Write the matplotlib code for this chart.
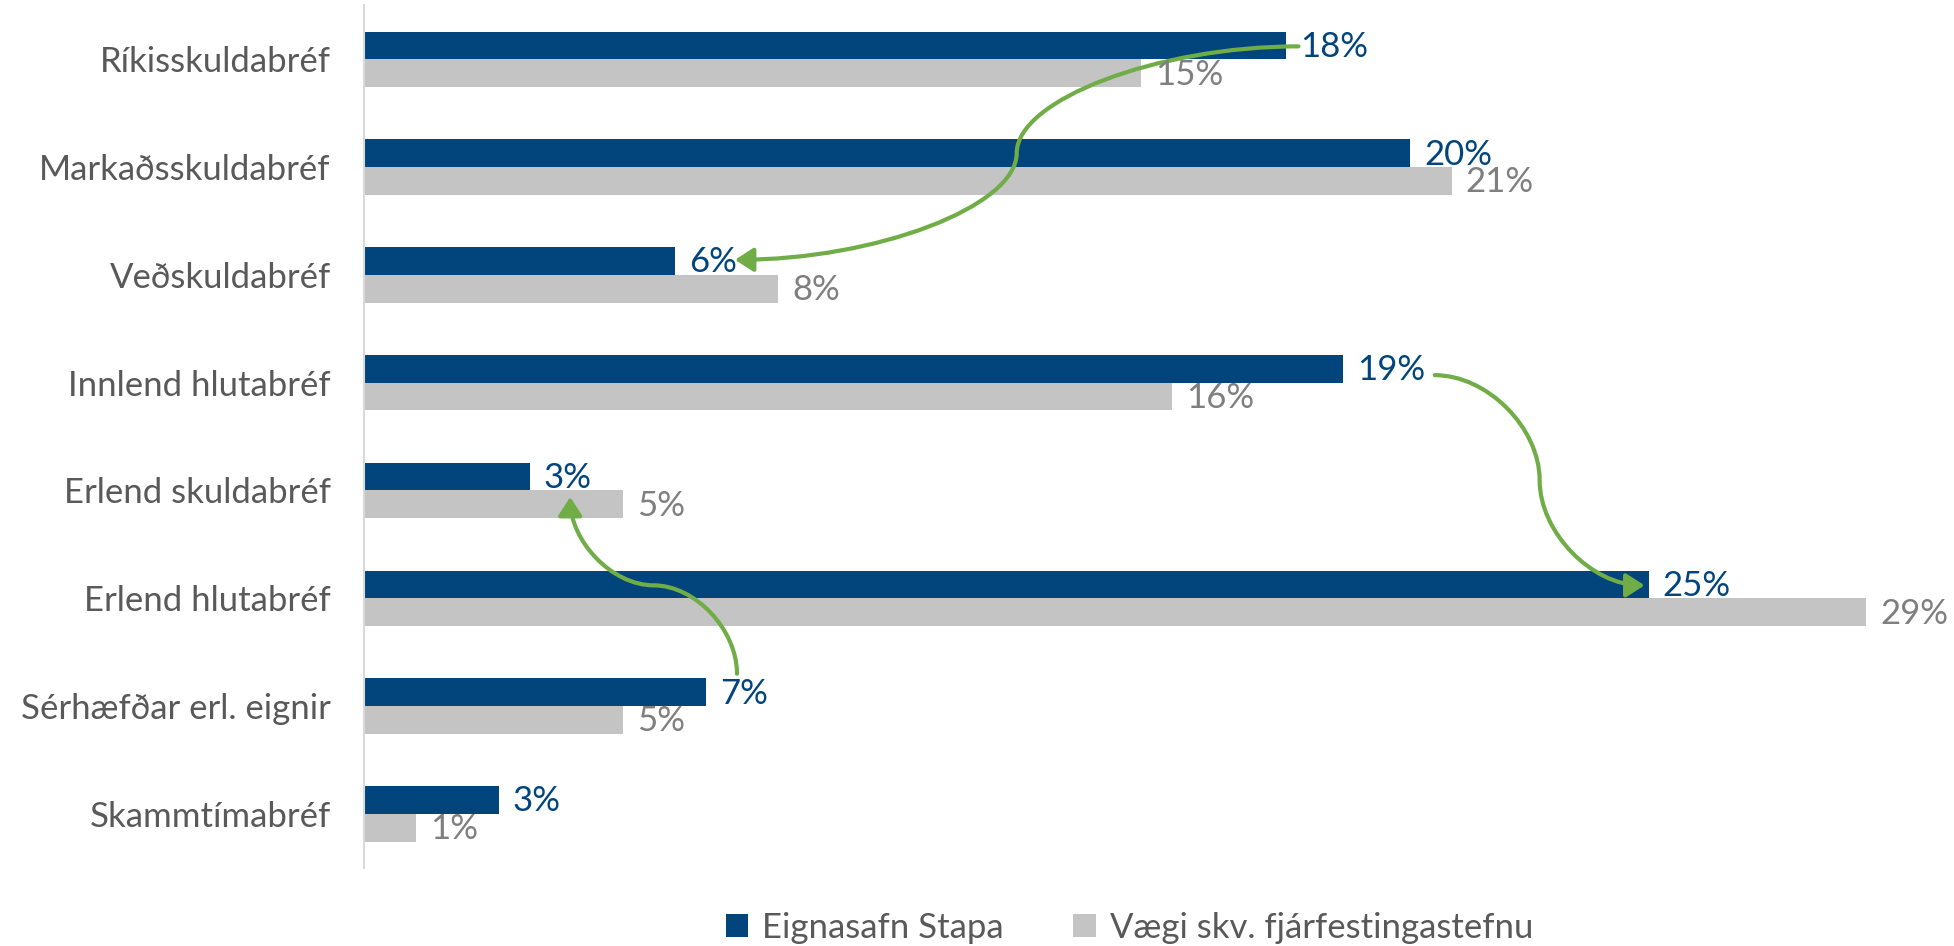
import matplotlib
matplotlib.use("Agg")
import matplotlib.pyplot as plt
from matplotlib.path import Path
from matplotlib.patches import FancyArrowPatch

plt.rcParams['font.family'] = ['Lato', 'DejaVu Sans']

categories = ["Ríkisskuldabréf", "Markaðsskuldabréf", "Veðskuldabréf", "Innlend hlutabréf",
              "Erlend skuldabréf", "Erlend hlutabréf", "Sérhæfðar erl. eignir", "Skammtímabréf"]
portfolio = [17.8, 20.2, 6.0, 18.9, 3.2, 24.8, 6.6, 2.6]      # Eignasafn Stapa
policy = [15.0, 21.0, 8.0, 15.6, 5.0, 29.0, 5.0, 1.0]         # Vægi skv. fjárfestingastefnu
series_names = ["Eignasafn Stapa", "Vægi skv. fjárfestingastefnu"]

BLUE = "#01457C"
GREY = "#C4C4C4"
GREY_TXT = "#7F7F7F"
TXT = "#595959"
GREEN = "#70AD47"

fig = plt.figure(figsize=(19.54, 9.46), dpi=100)
ax = fig.add_axes([0.1863, 0.0827, 0.7953, 0.9116])

h = 0.257
ys = list(range(len(categories)))
b1 = ax.barh([y - h / 2 for y in ys], portfolio, height=h, color=BLUE, label=series_names[0], zorder=2)
b2 = ax.barh([y + h / 2 for y in ys], policy, height=h, color=GREY, label=series_names[1], zorder=2)

for y, v in zip(ys, portfolio):
    ax.annotate(f"{v:.0f}%", (v, y - h / 2), xytext=(10, -1), textcoords="offset points",
                va="center", ha="left", fontsize=25, color=BLUE, zorder=4)
for y, v in zip(ys, policy):
    ax.annotate(f"{v:.0f}%", (v, y + h / 2), xytext=(10, -1), textcoords="offset points",
                va="center", ha="left", fontsize=25, color=GREY_TXT, zorder=4)

ax.set_xlim(0, 30)
ax.set_ylim(7.5, -0.5)
ax.set_yticks(ys)
ax.set_yticklabels(categories, fontsize=25, color=TXT)
ax.tick_params(axis="y", length=0, pad=24)
ax.set_xticks([])
for s in ("top", "right", "bottom"):
    ax.spines[s].set_visible(False)
ax.spines["left"].set_color("#D9D9D9")
ax.spines["left"].set_linewidth(1.5)


def s_curve(start, end, vertical=False):
    """Curved connector between two points (S-shaped, two cubic segments)."""
    x0, y0 = start
    x1, y1 = end
    xm, ym = (x0 + x1) / 2, (y0 + y1) / 2
    if not vertical:
        verts = [(x0, y0), ((x0 + xm) / 2, y0), (xm, y0 + (y1 - y0) / 4), (xm, ym),
                 (xm, y0 + 3 * (y1 - y0) / 4), ((xm + x1) / 2, y1), (x1, y1)]
    else:
        verts = [(x0, y0), (x0, (y0 + ym) / 2), (x0 + (x1 - x0) / 4, ym), (xm, ym),
                 (x0 + 3 * (x1 - x0) / 4, ym), (x1, (ym + y1) / 2), (x1, y1)]
    codes = [Path.MOVETO] + [Path.CURVE4] * 6
    return Path(verts, codes)


arrows = [
    ((18.04, -0.12), (7.16, 1.86), False),
    ((20.67, 2.93), (24.72, 4.88), False),
    ((7.2, 5.70), (3.98, 4.06), True),
]
for start, end, vert in arrows:
    ap = FancyArrowPatch(path=s_curve(start, end, vert), arrowstyle="-|>,head_length=0.7,head_width=0.45",
                         mutation_scale=16, color=GREEN, lw=3, zorder=3)
    ax.add_patch(ap)

fig.legend(handles=[b1, b2], labels=series_names, loc="center", bbox_to_anchor=(0.578, 0.019),
           ncol=2, frameon=False, fontsize=25, labelcolor=TXT, handlelength=0.65, handleheight=0.65,
           handletextpad=0.4, columnspacing=2.0)

fig.savefig("out.png", dpi=100)
